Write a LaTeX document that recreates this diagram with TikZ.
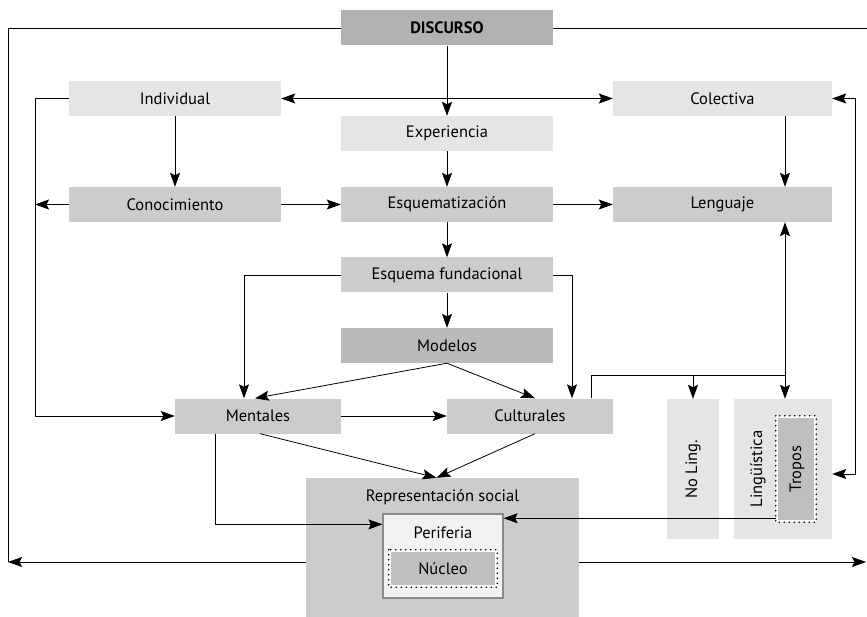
\documentclass[tikz,border=0pt]{standalone}
\usepackage{fontspec}
\setmainfont{PT Sans}
\usetikzlibrary{arrows.meta,positioning,calc}

\begin{document}
\begin{tikzpicture}[%
    x=1pt,y=-1pt,%
    >={Stealth[length=14pt,width=10pt,inset=2.5pt]},%
    font=\fontsize{16.5}{18}\selectfont%
  ]
  \tikzset{%
    box/.style={rectangle, inner sep=0pt, minimum width=212pt, minimum height=35pt},%
    boxpale/.style={box, fill=black!10},%
    boxmid/.style={box, fill=black!20},%
    boxdark/.style={box, fill=black!30},%
    dotframe/.style={draw=black, line width=1.6pt, line cap=round, dash pattern=on 0pt off 5pt},%
    link/.style={draw=black, line width=0.8pt}%
  }%
  \useasboundingbox (0,0) rectangle (867,617);%

  %
  % Cajas
  %
  \node[boxdark] (discurso) at (447,28) {\bfseries DISCURSO};%
  \node[boxpale] (individual) at (175,98.5) {Individual};%
  \node[boxpale, minimum width=219pt] (colectiva) at (722.5,98.5) {Colectiva};%
  \node[boxpale] (experiencia) at (447,133.5) {Experiencia};%
  \node[boxmid] (conocimiento) at (175,204.5) {Conocimiento};%
  \node[boxmid] (esquematizacion) at (447,204.5) {Esquematización};%
  \node[boxmid, minimum width=219pt] (lenguaje) at (722.5,204.5) {Lenguaje};%
  \node[boxmid] (fundacional) at (447,275) {Esquema fundacional};%
  \node[boxdark, fill=black!27] (modelos) at (447,345.5) {Modelos};%
  \node[boxmid, minimum width=166pt] (mentales) at (258,416) {Mentales};%
  \node[boxmid, minimum width=166pt] (culturales) at (530,416) {Culturales};%

  % Lenguaje: no lingüística / lingüística
  \node[boxpale, minimum width=52pt, minimum height=140pt] (nolinguistica) at (693,469) {};%
  \node[rotate=90] (nolingtxt) at (693,469) {No Ling.};%
  \node[boxpale, minimum width=98pt, minimum height=140pt] (linguistica) at (783,469) {};%
  \node[rotate=90] (lingtxt) at (758,469) {Lingüística};%
  \node[box, fill=black!25, draw=white, line width=2.5pt, minimum width=38pt, minimum height=104pt] (tropos) at (796,469) {};%
  \draw[dotframe] (tropos.north west) rectangle (tropos.south east);%
  \node[rotate=90] (tropostxt) at (797,469) {Tropos};%

  % Representacion social
  \node[boxmid, minimum width=273pt, minimum height=139pt] (rep) at (442.5,547.5) {};%
  \node (reptitle) at (442.5,497) {Representación social};%
  \node[box, fill=black!5, draw=black!45, line width=1.2pt, minimum width=120pt, minimum height=84pt] (periferia) at (443,556) {};%
  \node (periftitle) at (443,533) {Periferia};%
  \node[box, fill=black!25, draw=white, line width=2.5pt, minimum width=106pt, minimum height=35pt] (nucleo) at (443,568.5) {Núcleo};%
  \draw[dotframe] (nucleo.north west) rectangle (nucleo.south east);%

  %
  % Conexiones
  %
  \coordinate (frame sw) at (8,562);%
  \coordinate (frame se) at (866,562);%
  \coordinate (frame ne) at (867,28);%
  \coordinate (rail) at (35,0);%
  \coordinate (right rail) at (855,0);%
  \coordinate (bus) at (785,375);%

  % Marco exterior
  \draw[link] (discurso.west) -| (frame sw);%
  \draw[link,->] (rep.west |- frame sw) -- (frame sw);%
  \draw[link] (discurso.east) -- (frame ne);%
  \draw[link,->] (rep.east |- frame se) -- (frame se);%

  % Arriba
  \draw[link,<->] (individual) -- (colectiva);%
  \draw[link,->] (discurso) -- (experiencia);%
  \draw[link,->] (individual) -- (conocimiento);%
  \draw[link,->] (experiencia) -- (esquematizacion);%
  \draw[link,->] (colectiva.south -| bus) -- (lenguaje.north -| bus);%
  \draw[link,->] (conocimiento) -- (esquematizacion);%
  \draw[link,->] (esquematizacion) -- (lenguaje);%
  \draw[link,->] (conocimiento.west) -- (conocimiento.west -| rail);%
  \draw[link,->] (individual.west) -| (rail |- mentales.west) -- (mentales.west);%

  % Esquemas y modelos
  \draw[link,->] (esquematizacion) -- (fundacional);%
  \draw[link,->] (fundacional) -- (modelos);%
  \draw[link,->] (fundacional.west) -| ([xshift=-14pt]mentales.north);%
  \draw[link,->] (fundacional.east) -| ([xshift=42pt]culturales.north);%
  \draw[link,->] (modelos.south) -- ([xshift=-3pt]mentales.north);%
  \draw[link,->] (modelos.south) -- ([xshift=5pt]culturales.north);%
  \draw[link,->] (mentales) -- (culturales);%

  % Hacia la representacion
  \draw[link,->] ([xshift=2pt]mentales.south) -- ([xshift=-6pt]rep.north);%
  \draw[link,->] ([xshift=5pt]culturales.south) -- ([xshift=-6pt]rep.north);%
  \draw[link,->] ([xshift=-43pt]mentales.south) |- ([yshift=-11pt]periferia.north west);%
  \coordinate (tropos port) at ([yshift=4pt]tropos.south west);%
  \draw[link,->] (tropos port) -- (tropos port -| periferia.east);%

  % Lenguaje
  \draw[link,->] ([xshift=61pt]culturales.north) |- (bus) -- (lenguaje.south -| bus);%
  \draw[link,->] (nolinguistica.north |- bus) -- (nolinguistica.north);%
  \draw[link,->] (bus) -- (bus |- linguistica.north);%
  \coordinate (ling port) at ([yshift=-5pt]linguistica.east);%
  \draw[link,<->] (colectiva.east) -| (ling port -| right rail) -- (ling port);%
\end{tikzpicture}
\end{document}
